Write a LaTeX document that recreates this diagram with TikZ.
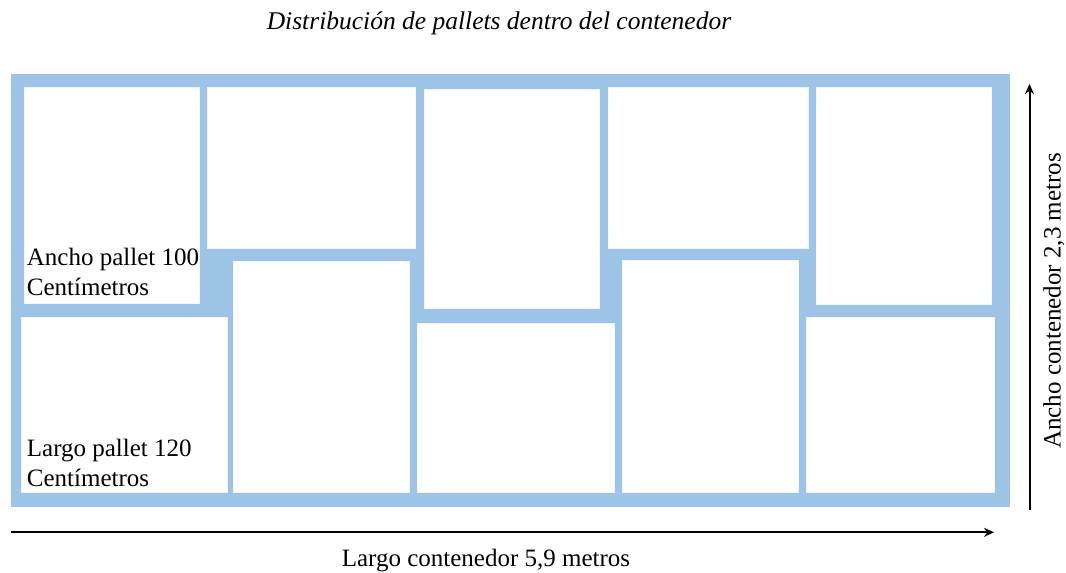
\documentclass[tikz,border=0pt]{standalone}
\usepackage{fontspec}
\setmainfont{Liberation Serif}
\usetikzlibrary{arrows.meta}
\definecolor{contblue}{RGB}{157,195,230}
\begin{document}
\begin{tikzpicture}[x=1pt,y=-1pt,
  lbl/.style={inner sep=0pt, font=\fontsize{25}{30}\selectfont},
  pallet/.style={fill=white, draw=white!85!contblue, line width=0.6pt},
  dimarrow/.style={line width=2pt, -{Stealth[length=10pt,width=9pt]}}]
\useasboundingbox (0,0) rectangle (1066,573);
% container
\fill[contblue] (11,74) rectangle (1010,507.3);
% pallets
\path[pallet] (24.3,87.7) rectangle (199.3,303.3);
\path[pallet] (207,87.5) rectangle (415.7,248);
\path[pallet] (233.5,261.7) rectangle (409.3,492.5);
\path[pallet] (424.3,89.7) rectangle (599.5,308.3);
\path[pallet] (608.3,87.7) rectangle (807.8,248);
\path[pallet] (816.4,87.7) rectangle (991.6,304.3);
\path[pallet] (622.2,260.7) rectangle (798.3,492);
\path[pallet] (417.2,323.3) rectangle (613.9,492);
\path[pallet] (21.7,317.3) rectangle (227.7,492);
\path[pallet] (806.3,317.3) rectangle (994.3,492);
% labels inside pallets
\node[lbl, anchor=base west] (anchoA) at (26.7,265) {Ancho pallet 100};
\node[lbl, anchor=base west] (anchoB) at (26.7,295) {Centímetros};
\node[lbl, anchor=base west] (largoA) at (26.7,456.7) {Largo pallet 120};
\node[lbl, anchor=base west] (largoB) at (26.7,486.7) {Centímetros};
% title
\node[lbl, anchor=base, font=\fontsize{25.5}{30}\selectfont\itshape] (title) at (499,29) {Distribución de pallets dentro del contenedor};
% dimension arrows
\coordinate (hs) at (11,532.3);
\coordinate (he) at (994,532.3);
\draw[dimarrow] (hs) -- (he);
\coordinate (vs) at (1029.5,510);
\coordinate (ve) at (1029.5,84);
\draw[dimarrow] (vs) -- (ve);
\node[lbl, anchor=base] (largocont) at (486,566) {Largo contenedor 5,9 metros};
\node[lbl, anchor=base, rotate=90] (anchocont) at (1060.5,301) {Ancho contenedor 2,3 metros};
\end{tikzpicture}
\end{document}
